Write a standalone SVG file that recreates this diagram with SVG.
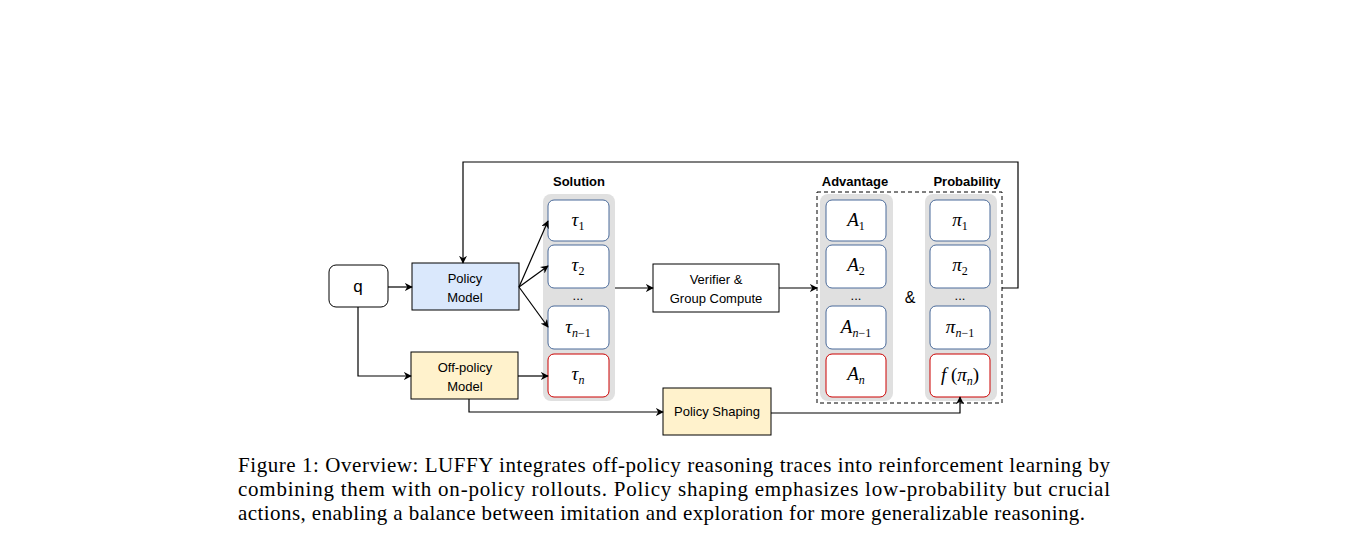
<svg xmlns="http://www.w3.org/2000/svg" width="1347" height="548" viewBox="0 0 1347 548">
<defs>
<marker id="ah" viewBox="0 0 10 10" refX="9" refY="5" markerWidth="8" markerHeight="8" orient="auto" markerUnits="userSpaceOnUse"><path d="M0,0 L10,5 L0,10 L3,5 Z" fill="#000"/></marker>
<style>
.hand{font-family:"Liberation Sans",sans-serif;font-size:13px;text-anchor:middle}
.hdr{font-family:"Liberation Sans",sans-serif;font-size:13px;font-weight:bold;text-anchor:middle}
.math{font-family:"Liberation Serif",serif;font-style:italic;font-size:19px;text-anchor:middle}
.sub{font-size:12px}
.up{font-style:normal}
.gray{fill:#e0e0e0;stroke:none}
.blue{fill:#fff;stroke:#4a6a9a;stroke-width:1}
.red{fill:#fff;stroke:#cc0000;stroke-width:1}
.ln{fill:none;stroke:#000;stroke-width:1.2}
.cap{font-family:"Liberation Serif",serif;font-size:21px}
</style>
</defs>
<rect width="1347" height="548" fill="#fff"/>
<g id="q"><rect x="329" y="265" width="59" height="42" rx="7" fill="#fff" stroke="#000"/><text x="358" y="292" class="hand" style="font-size:17px">q</text></g>
<g id="policy"><rect x="412" y="263" width="107" height="47" fill="#dae8fc" stroke="#000"/><text x="465" y="283" class="hand">Policy</text><text x="465" y="302" class="hand">Model</text></g>
<g id="offpolicy"><rect x="411" y="352" width="107" height="47" fill="#fff2cc" stroke="#000"/><text x="465" y="372" class="hand">Off-policy</text><text x="465" y="391" class="hand">Model</text></g>
<g id="solution">
<text x="579" y="186" class="hdr">Solution</text>
<rect x="543" y="194" width="72" height="207" rx="8" class="gray"/>
<rect x="548" y="200" width="61" height="41" rx="6" class="blue"/><text x="578" y="226" class="math">τ<tspan class="sub up" dy="4">1</tspan></text>
<rect x="548" y="245" width="61" height="43" rx="6" class="blue"/><text x="578" y="271" class="math">τ<tspan class="sub up" dy="4">2</tspan></text>
<text x="578" y="300" class="hand">...</text>
<rect x="548" y="306" width="61" height="43" rx="6" class="blue"/><text x="578" y="333" class="math">τ<tspan class="sub" dy="4">n</tspan><tspan class="sub up">−1</tspan></text>
<rect x="548" y="354" width="61" height="43" rx="6" class="red"/><text x="578" y="380" class="math">τ<tspan class="sub" dy="4">n</tspan></text>
</g>
<g id="verifier"><rect x="653" y="264" width="126" height="48" fill="#fff" stroke="#000"/><text x="716" y="284" class="hand">Verifier &amp;</text><text x="716" y="303" class="hand">Group Compute</text></g>
<g id="results">
<rect x="817" y="192" width="185" height="211" fill="none" stroke="#000" stroke-dasharray="4,3"/>
<text x="855" y="186" class="hdr">Advantage</text>
<text x="967" y="186" class="hdr">Probability</text>
<rect x="820" y="194" width="73" height="207" rx="8" class="gray"/>
<rect x="925" y="194" width="72" height="207" rx="8" class="gray"/>
<rect x="826" y="200" width="60" height="41" rx="6" class="blue"/><text x="856" y="226" class="math">A<tspan class="sub up" dy="4">1</tspan></text>
<rect x="826" y="245" width="60" height="43" rx="6" class="blue"/><text x="856" y="271" class="math">A<tspan class="sub up" dy="4">2</tspan></text>
<text x="856" y="300" class="hand">...</text>
<rect x="826" y="306" width="60" height="43" rx="6" class="blue"/><text x="856" y="333" class="math">A<tspan class="sub" dy="4">n</tspan><tspan class="sub up">−1</tspan></text>
<rect x="826" y="354" width="60" height="43" rx="6" class="red"/><text x="856" y="380" class="math">A<tspan class="sub" dy="4">n</tspan></text>
<text x="910" y="303" class="hand" style="font-size:16px">&amp;</text>
<rect x="930" y="200" width="60" height="41" rx="6" class="blue"/><text x="960" y="226" class="math">π<tspan class="sub up" dy="4">1</tspan></text>
<rect x="930" y="245" width="60" height="43" rx="6" class="blue"/><text x="960" y="271" class="math">π<tspan class="sub up" dy="4">2</tspan></text>
<text x="960" y="300" class="hand">...</text>
<rect x="930" y="306" width="60" height="43" rx="6" class="blue"/><text x="960" y="333" class="math">π<tspan class="sub" dy="4">n</tspan><tspan class="sub up">−1</tspan></text>
<rect x="930" y="354" width="60" height="43" rx="6" class="red"/><text x="960" y="381" class="math">f<tspan class="up"> (</tspan>π<tspan class="sub" dy="4">n</tspan><tspan class="up" dy="-4">)</tspan></text>
</g>
<g id="shaping"><rect x="663" y="388" width="108" height="47" fill="#fff2cc" stroke="#000"/><text x="717" y="416" class="hand">Policy Shaping</text></g>
<g id="connectors">
<path class="ln" d="M388,287 H412" marker-end="url(#ah)"/>
<path class="ln" d="M358,307 V376 H411" marker-end="url(#ah)"/>
<path class="ln" d="M519,287 L548,221" marker-end="url(#ah)"/>
<path class="ln" d="M519,287 L548,266" marker-end="url(#ah)"/>
<path class="ln" d="M519,287 L548,327" marker-end="url(#ah)"/>
<path class="ln" d="M518,376 H548" marker-end="url(#ah)"/>
<path class="ln" d="M615,288 H653" marker-end="url(#ah)"/>
<path class="ln" d="M779,288 H817" marker-end="url(#ah)"/>
<path class="ln" d="M1002,288 H1018 V162 H463 V263" marker-end="url(#ah)"/>
<path class="ln" d="M469,399 V412 H663" marker-end="url(#ah)"/>
<path class="ln" d="M771,413 H960 V397" marker-end="url(#ah)"/>
</g>
<g id="caption">
<text x="238" y="472" class="cap" textLength="872" lengthAdjust="spacing">Figure 1: Overview: LUFFY integrates off-policy reasoning traces into reinforcement learning by</text>
<text x="238" y="496" class="cap" textLength="872" lengthAdjust="spacing">combining them with on-policy rollouts.  Policy shaping emphasizes low-probability but crucial</text>
<text x="238" y="520" class="cap" textLength="847" lengthAdjust="spacing">actions, enabling a balance between imitation and exploration for more generalizable reasoning.</text>
</g>
</svg>
